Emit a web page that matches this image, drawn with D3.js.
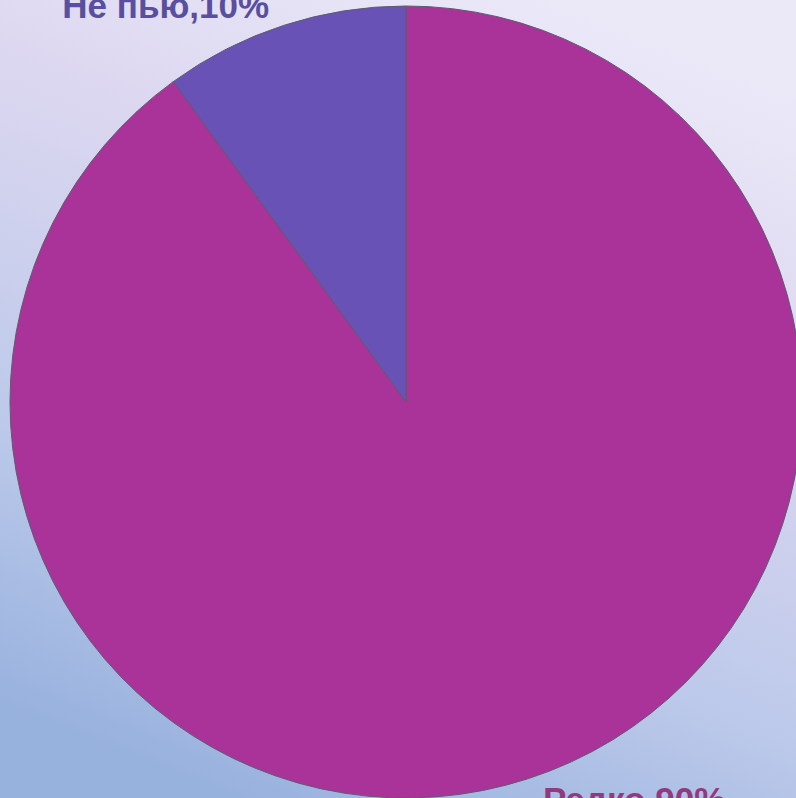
<!DOCTYPE html>
<html lang="ru">
  <head>
    <meta charset="UTF-8" />
    <script src="https://d3js.org/d3.v7.min.js"></script>
    <title>Не пью / Редко</title>
    <style>
      html, body { margin: 0; padding: 0; overflow: hidden; }
      svg { display: block; }
      .label { font-family: 'Liberation Sans', Arial, sans-serif; font-weight: bold; font-size: 35px; }
    </style>
  </head>
  <body>
    <script>
      var width = 796
      var height = 798

      // данные
      var categories = ['Редко', 'Не пью']
      var values = [90, 10]
      var labels = ['Редко,90%', 'Не пью,10%']
      var sliceColors = ['#AA3399', '#6852B6']
      var labelColors = ['#93397F', '#5A4E9E']

      var cx = 406, cy = 402, radius = 396

      var svg = d3.select('body').append('svg')
        .attr('width', width)
        .attr('height', height)

      // фон
      var grad = svg.append('defs').append('linearGradient')
        .attr('id', 'bg')
        .attr('x1', 0.7).attr('y1', 0)
        .attr('x2', 0.3).attr('y2', 1)
      grad.append('stop').attr('offset', 0).attr('stop-color', '#EBE9F8')
      grad.append('stop').attr('offset', 0.3).attr('stop-color', '#DCD7F0')
      grad.append('stop').attr('offset', 0.7).attr('stop-color', '#BCC9EA')
      grad.append('stop').attr('offset', 1).attr('stop-color', '#98B2DE')

      svg.append('rect')
        .attr('width', width)
        .attr('height', height)
        .attr('fill', 'url(#bg)')

      var pie = d3.pie().sort(null).value(function (d) { return d })
      var arcs = pie(values)
      var arc = d3.arc().innerRadius(0).outerRadius(radius)

      var g = svg.append('g').attr('transform', 'translate(' + cx + ',' + cy + ')')

      g.selectAll('path')
        .data(arcs)
        .enter()
        .append('path')
        .attr('d', arc)
        .attr('fill', function (d, i) { return sliceColors[i] })
        .attr('stroke', '#5E5A70')
        .attr('stroke-width', 1)

      // подписи
      g.selectAll('text')
        .data(arcs)
        .enter()
        .append('text')
        .attr('class', 'label')
        .attr('x', function (d) { return Math.sin((d.startAngle + d.endAngle) / 2) * 443 })
        .attr('y', function (d) { return -Math.cos((d.startAngle + d.endAngle) / 2) * 400 })
        .attr('dy', function (d) {
          var a = (d.startAngle + d.endAngle) / 2
          return Math.cos(a) > 0 ? '-0.1em' : '0.85em'
        })
        .attr('text-anchor', function (d) {
          var a = (d.startAngle + d.endAngle) / 2
          return Math.sin(a) < 0 ? 'end' : 'start'
        })
        .attr('fill', function (d, i) { return labelColors[i] })
        .text(function (d, i) { return labels[i] })
    </script>
  </body>
</html>
